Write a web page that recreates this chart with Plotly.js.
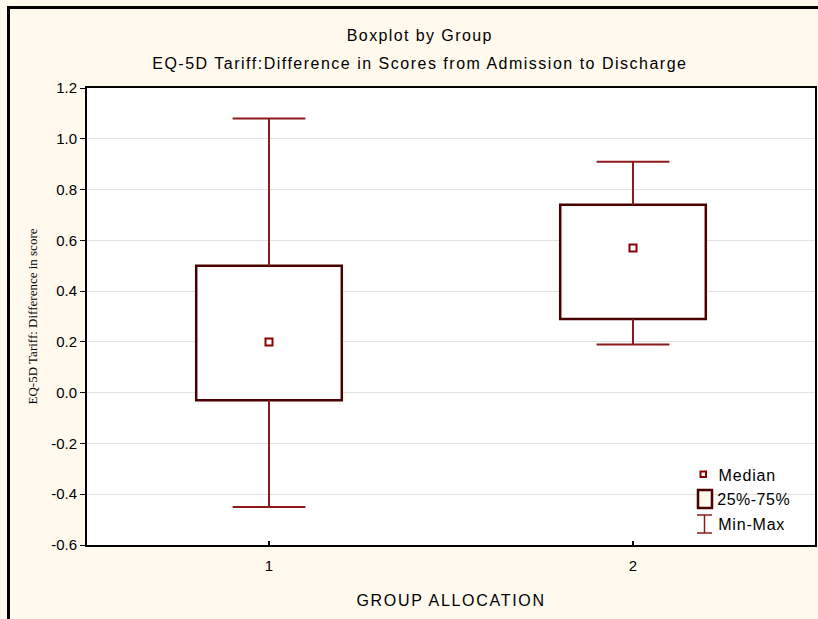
<!DOCTYPE html>
<html>
<head>
<meta charset="utf-8">
<script src="https://cdn.plot.ly/plotly-3.0.1.min.js"></script>
<style>
html,body{margin:0;padding:0;background:#FFF9EE;overflow:hidden;width:818px;height:619px;}
#wrap{position:relative;width:818px;height:619px;overflow:hidden;}
#chart{width:818px;height:619px;}
#frame{position:absolute;left:7px;top:6px;width:820px;height:620px;border-left:3px solid #000;border-top:3px solid #000;pointer-events:none;box-sizing:border-box;}
</style>
</head>
<body>
<div id="wrap"><div id="chart"></div><div id="frame"></div></div>
<script>
// ---- data ----
var groups = [1, 2];
var groupLabels = ['1', '2'];
var mins    = [-0.45, 0.19];
var q1      = [-0.03, 0.29];
var medians = [0.20, 0.57];
var q3      = [0.50, 0.74];
var maxs    = [1.08, 0.91];
var yTicks  = [-0.6, -0.4, -0.2, 0.0, 0.2, 0.4, 0.6, 0.8, 1.0, 1.2];
var yTickText = ['-0.6', '-0.4', '-0.2', '0.0', '0.2', '0.4', '0.6', '0.8', '1.0', '1.2'];
var legendLabels = ['Median', '25%-75%', 'Min-Max'];

var whiskerColor = '#8E1B1B';
var boxColor = '#4A0000';
var capHalf = 0.1;
var boxWidth = 0.4;

// whiskers built from data
var wx = [], wy = [];
for (var i = 0; i < groups.length; i++) {
  var g = groups[i];
  wx.push(g, g, null, g - capHalf, g + capHalf, null, g, g, null, g - capHalf, g + capHalf, null);
  wy.push(q3[i], maxs[i], null, maxs[i], maxs[i], null, q1[i], mins[i], null, mins[i], mins[i], null);
}

var boxTrace = {
  type: 'bar',
  x: groups,
  base: q1,
  y: q1.map(function (v, i) { return q3[i] - v; }),
  width: boxWidth,
  marker: { color: '#FFFFFF', line: { color: boxColor, width: 2.5 } },
  hoverinfo: 'skip',
  showlegend: false
};

var whiskerTrace = {
  type: 'scatter',
  mode: 'lines',
  x: wx,
  y: wy,
  line: { color: whiskerColor, width: 2 },
  hoverinfo: 'skip',
  showlegend: false
};

var medianTrace = {
  type: 'scatter',
  mode: 'markers',
  x: groups,
  y: medians,
  marker: { symbol: 'square-open', size: 7, color: '#8B0000', line: { width: 2, color: '#8B0000' } },
  showlegend: false
};

var L = 87, R = 815, T = 88, B = 545;
function px(x) { return (x - L) / (R - L); }
function py(y) { return (B - y) / (B - T); }

var shapes = [
  // legend icons
  { type: 'rect', xref: 'paper', yref: 'paper', x0: px(700.5), x1: px(706), y0: py(477), y1: py(471.5),
    line: { color: '#8B0000', width: 2 }, fillcolor: '#FFFFFF' },
  { type: 'rect', xref: 'paper', yref: 'paper', x0: px(698), x1: px(712), y0: py(508), y1: py(490),
    line: { color: boxColor, width: 2.5 }, fillcolor: '#FFF9EE' },
  { type: 'line', xref: 'paper', yref: 'paper', x0: px(704.5), x1: px(704.5), y0: py(533), y1: py(515),
    line: { color: whiskerColor, width: 1.5 } },
  { type: 'line', xref: 'paper', yref: 'paper', x0: px(697), x1: px(712), y0: py(515), y1: py(515),
    line: { color: whiskerColor, width: 1.5 } },
  { type: 'line', xref: 'paper', yref: 'paper', x0: px(697), x1: px(712), y0: py(533), y1: py(533),
    line: { color: whiskerColor, width: 1.5 } }
];

var fontA = 'Liberation Sans, Arial, sans-serif';
var annotations = [
  { xref: 'paper', yref: 'paper', x: px(420), y: py(36), text: 'Boxplot by Group', showarrow: false,
    xanchor: 'center', yanchor: 'middle', font: { family: fontA, size: 16, color: '#000' } },
  { xref: 'paper', yref: 'paper', x: px(420), y: py(64), text: 'EQ-5D Tariff:Difference in Scores from Admission to Discharge', showarrow: false,
    xanchor: 'center', yanchor: 'middle', font: { family: fontA, size: 16, color: '#000' } },
  { xref: 'paper', yref: 'paper', x: px(451), y: py(600), text: 'GROUP ALLOCATION', showarrow: false,
    xanchor: 'center', yanchor: 'middle', font: { family: fontA, size: 16, color: '#000' } },
  { xref: 'paper', yref: 'paper', x: px(719), y: py(475), text: legendLabels[0], showarrow: false,
    xanchor: 'left', yanchor: 'middle', font: { family: fontA, size: 16, color: '#000' } },
  { xref: 'paper', yref: 'paper', x: px(717), y: py(499), text: legendLabels[1], showarrow: false,
    xanchor: 'left', yanchor: 'middle', font: { family: fontA, size: 16, color: '#000' } },
  { xref: 'paper', yref: 'paper', x: px(719), y: py(524), text: legendLabels[2], showarrow: false,
    xanchor: 'left', yanchor: 'middle', font: { family: fontA, size: 16, color: '#000' } }
];

var layout = {
  width: 818, height: 619,
  margin: { l: L, r: 818 - R, t: T, b: 619 - B, pad: 0 },
  paper_bgcolor: '#FFF9EE',
  plot_bgcolor: '#FFFFFF',
  showlegend: false,
  xaxis: {
    range: [0.5, 2.5],
    tickmode: 'array', tickvals: groups, ticktext: groupLabels,
    ticks: 'inside', ticklen: 4, tickcolor: '#000', tickwidth: 1.5,
    showgrid: false, zeroline: false,
    showline: true, linecolor: '#000', linewidth: 2, mirror: true,
    tickfont: { family: fontA, size: 15, color: '#000' },
    ticklabelstandoff: 6
  },
  yaxis: {
    range: [-0.6, 1.2],
    tickmode: 'array', tickvals: yTicks, ticktext: yTickText,
    ticks: 'outside', ticklen: 5, tickcolor: '#000', tickwidth: 1,
    showgrid: true, gridcolor: '#E3E3E3', gridwidth: 1,
    zeroline: false,
    showline: true, linecolor: '#000', linewidth: 2, mirror: true,
    tickfont: { family: fontA, size: 15, color: '#000' },
    title: { text: 'EQ-5D Tariff: Difference in score', font: { family: 'Liberation Serif, Times New Roman, serif', size: 13, color: '#000' }, standoff: 11 }
  },
  shapes: shapes,
  annotations: annotations,
  bargap: 0
};

Plotly.newPlot('chart', [boxTrace, whiskerTrace, medianTrace], layout, { displayModeBar: false, staticPlot: true }).then(function () {
  // widen letter spacing of the title-type texts to match the reference rendering
  var texts = document.querySelectorAll('.annotation-text');
  var spacing = [1.4, 1.5, 1.7, 0.8, 0.5, 0.8];
  texts.forEach(function (t, k) { t.style.letterSpacing = spacing[k] + 'px'; });
});
</script>
</body>
</html>
